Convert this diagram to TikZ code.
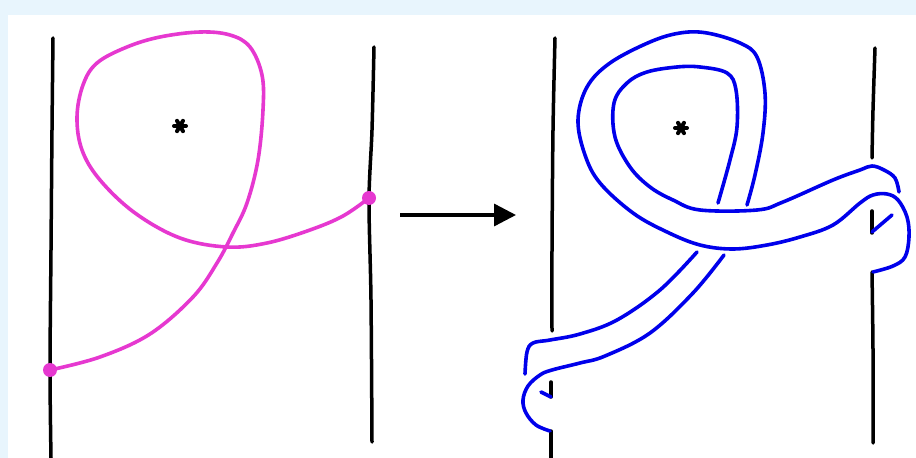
\documentclass[tikz,border=0pt]{standalone}
\usepackage{xcolor}
\usepackage{tikz}
\usetikzlibrary{arrows.meta,calc}

\definecolor{pinkline}{RGB}{230,56,208}
\definecolor{bandblue}{RGB}{0,0,235}
\definecolor{paneback}{RGB}{232,245,253}

\begin{document}
\begin{tikzpicture}[
    x=1bp, y=-1bp,
    wall/.style={line width=3.5bp, line cap=round, black},
    arc/.style={line width=3.6bp, line cap=round, pinkline},
    band/.style={line width=3.6bp, line cap=round, bandblue},
    endpt/.style={circle, fill=pinkline, inner sep=0pt, minimum size=14bp},
    puncture/.style={line width=4bp, line cap=round, black},
    arr/.style={-{Triangle[length=22bp,width=22bp]}, line width=3.4bp}
]
% Frame
\useasboundingbox (0,0) rectangle (916,458);
\fill[paneback] (0,0) rectangle (916,458);
\fill[white] (8,15) rectangle (916,458);

% Left picture: the two walls and the arc between them
\draw[wall] plot[smooth] coordinates {(53,38) (52,130) (51,250) (50,370) (51,458)};
\draw[wall] plot[smooth] coordinates {(374,47) (372,130) (369,200) (371,300) (372,442)};
\draw[arc] plot[smooth, tension=0.6] coordinates {
    (50,370) (100,357) (150,334) (193,297) (217,263) (233,233) (247,203)
    (258,160) (263,110) (262,75) (250,47) (230,35) (200,32) (160,37)
    (127,47) (97,63) (83,85) (77,117) (82,150) (100,180) (135,213)
    (180,238) (227,247) (267,243) (310,230) (343,216) (369,198)};
\node[endpt] (p) at (50,370) {};
\node[endpt] (q) at (369,198) {};
\coordinate (holeL) at (180,126);
\fill (holeL) circle (3.5bp);
\foreach \a in {0,60,120}
  \draw[puncture] ($(holeL)+(\a:6)$) -- ($(holeL)+(\a+180:6)$);

% The map
\coordinate (mapfrom) at (400,215);
\coordinate (mapto)   at (516,215);
\draw[arr] (mapfrom) -- (mapto);

% Right picture: walls, broken where the band passes in front
\draw[wall] plot[smooth] coordinates {(555,38) (553,130) (552,250) (552,331)};
\draw[wall] (551,382) -- (551,397);
\draw[wall] (551,431) -- (551,458);
\draw[wall] plot[smooth] coordinates {(875,48) (873,110) (872,158)};
\draw[wall] (872,211) -- (872,233);
\draw[wall] plot[smooth] coordinates {(872,272) (873,350) (873,443)};

% Band: outer strand
\draw[band] plot[smooth, tension=0.6] coordinates {
    (550,431) (536,425) (526,413) (523,400) (528,386) (540,375) (552,370)
    (580,363) (605,356) (650,333) (693,293) (724,255)};
\draw[band] plot[smooth, tension=0.6] coordinates {
    (747,205) (755,175) (763,133) (765,93) (757,57) (740,43) (707,33)
    (680,33) (650,42) (610,63) (587,87) (578,120) (585,155) (600,183)
    (633,213) (667,232) (700,245) (733,249) (767,245) (800,237) (833,225)
    (860,203) (873,195) (887,194) (898,200) (907,217) (909,237) (905,257)
    (893,266) (873,272)};
\draw[band] (541,392) -- (551,397);
% Band: inner strand
\draw[band] plot[smooth, tension=0.6] coordinates {
    (525,374) (527,352) (533,343) (550,340) (580,334) (617,320) (660,290)
    (697,252)};
\draw[band] plot[smooth, tension=0.6] coordinates {
    (718,203) (730,160) (737,127) (736,90) (727,73) (700,67) (677,67)
    (647,72) (627,83) (614,103) (615,137) (630,167) (650,187) (673,200)
    (700,210) (757,210) (783,202) (833,180) (860,170) (872,166) (884,170)
    (895,178) (899,192)};
\draw[band] (872,232) -- (892,215);
\coordinate (holeR) at (681,128);
\fill (holeR) circle (3.5bp);
\foreach \a in {0,60,120}
  \draw[puncture] ($(holeR)+(\a:6)$) -- ($(holeR)+(\a+180:6)$);
\end{tikzpicture}
\end{document}
